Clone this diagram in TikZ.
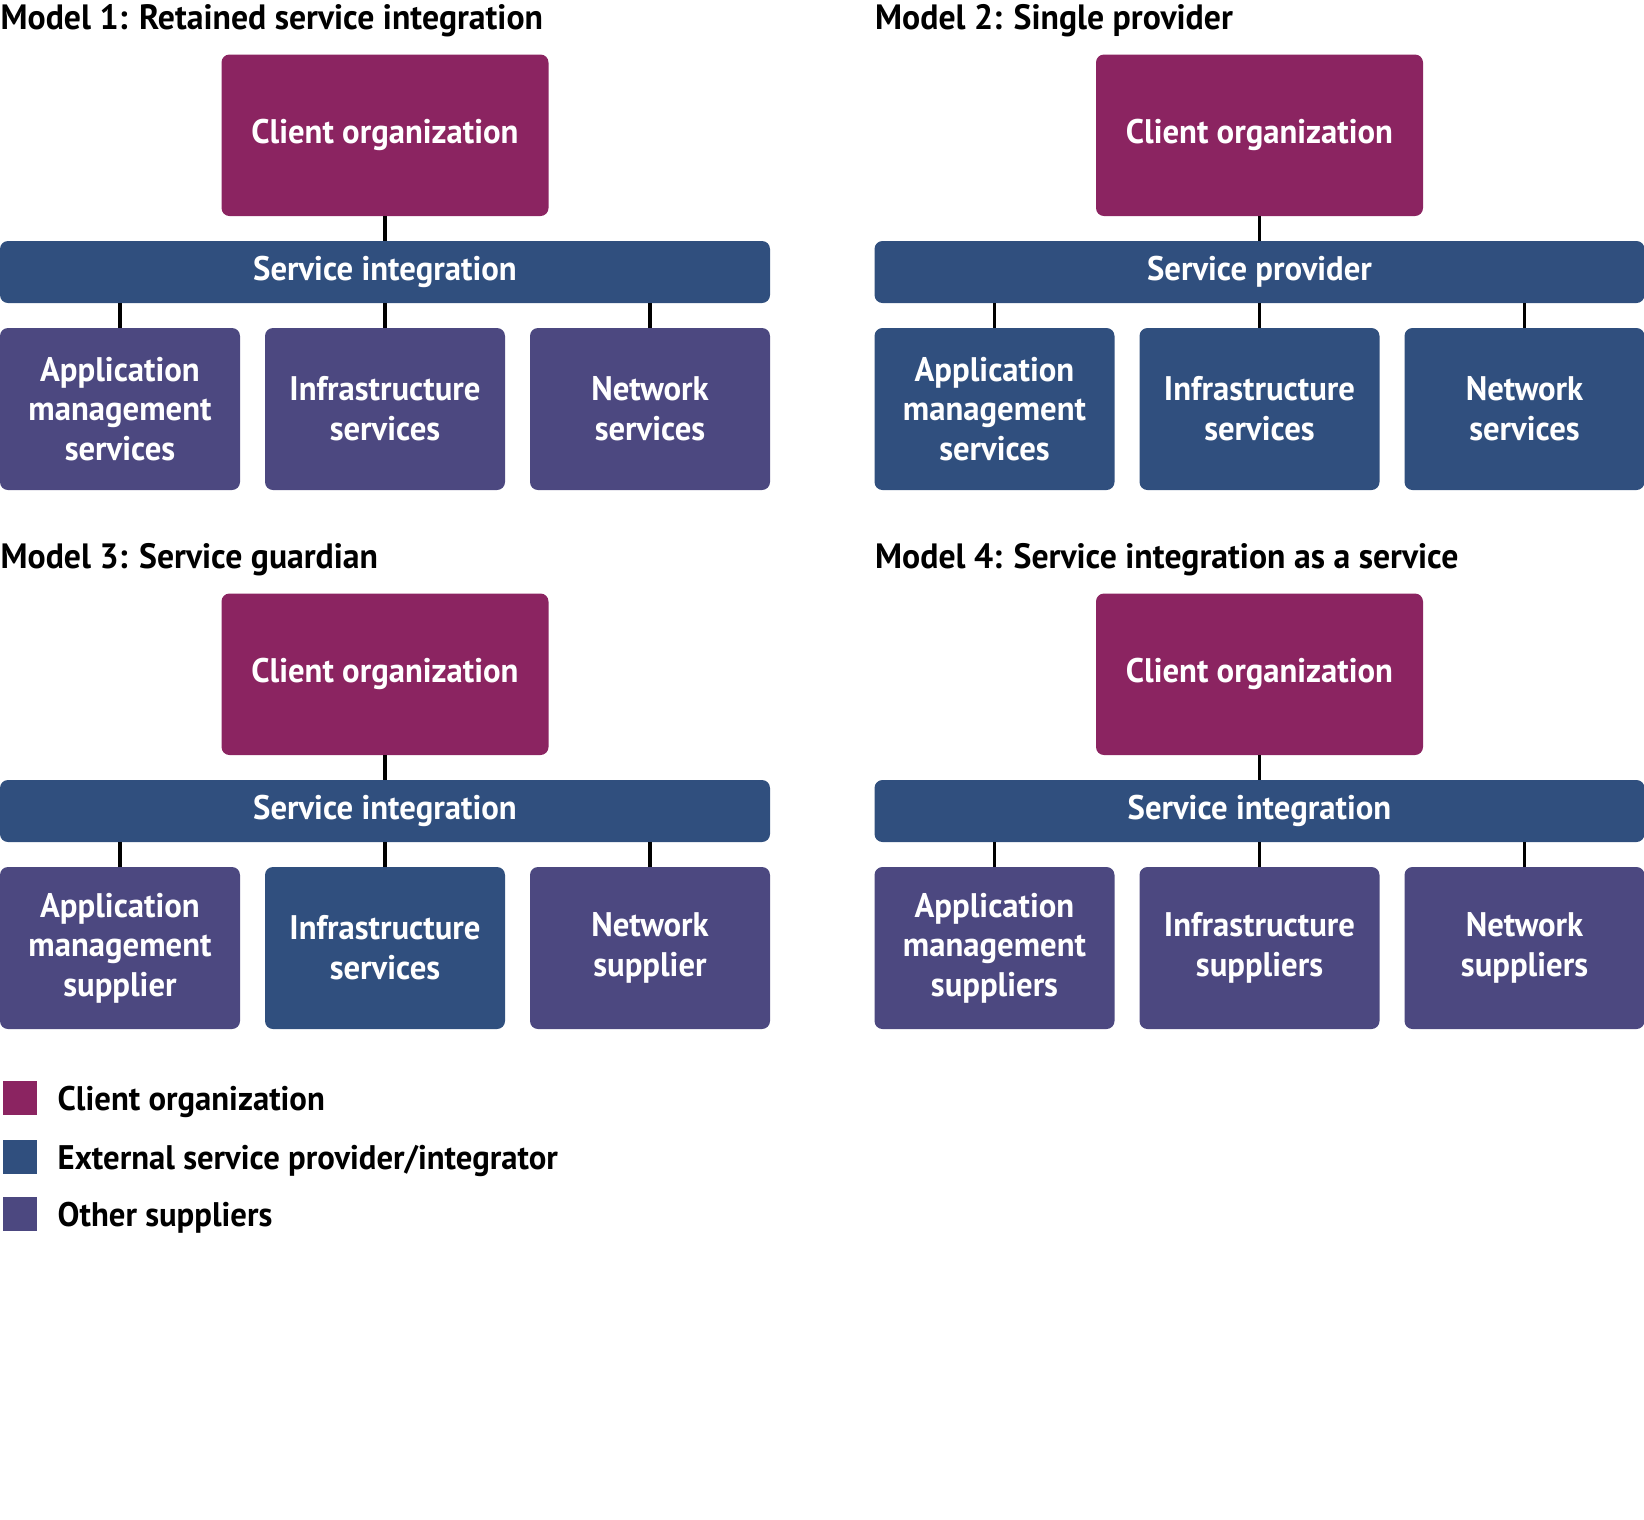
\documentclass[tikz,border=0pt]{standalone}
\usepackage{fontspec}
\setmainfont{PT Sans}[FakeStretch=0.96]
\usepackage{xcolor}
\usepackage{tikz}
\usetikzlibrary{positioning}

\definecolor{clientplum}{HTML}{8B2461}
\definecolor{providerblue}{HTML}{304F7E}
\definecolor{supplierviolet}{HTML}{4C4880}

\begin{document}
\begin{tikzpicture}[
    node distance=0.25cm,
    font=\fontsize{9.7}{11.3}\selectfont\bfseries,
    client/.style={rectangle, rounded corners=0.08cm, fill=clientplum, text=white, minimum width=3.27cm, minimum height=1.615cm, inner sep=0pt, outer sep=0pt},
    integrator/.style={rectangle, rounded corners=0.08cm, fill=providerblue, text=white, minimum width=7.7cm, minimum height=0.62cm, inner sep=0pt, outer sep=0pt},
    supplier/.style={rectangle, rounded corners=0.08cm, fill=supplierviolet, text=white, text width=2.4cm, align=center, minimum height=1.62cm, inner sep=0pt, outer sep=0pt},
    provider/.style={supplier, fill=providerblue},
    heading/.style={anchor=base west, inner sep=0pt, font=\fontsize{10}{12}\selectfont\bfseries},
    legendbox/.style={rectangle, minimum size=0.34cm, inner sep=0pt},
    legendtext/.style={anchor=west, inner sep=0pt},
    link/.style={line width=1pt}
]
\useasboundingbox (0,0) rectangle (16.44,-15.2);

% Model 1
\node[heading] (title1) at (0,-0.29) {Model 1: Retained service integration};
\node[client] (client1) at (3.85,-1.3525) {Client organization};
\node[integrator, below=of client1] (si1) {Service integration};
\node[supplier, below=of si1] (infra1) {Infrastructure\\services};
\node[supplier, left=of infra1] (app1) {Application\\management\\services};
\node[supplier, right=of infra1] (net1) {Network\\services};

% Model 2
\node[heading] (title2) at (8.745,-0.29) {Model 2: Single provider};
\node[client] (client2) at (12.595,-1.3525) {Client organization};
\node[integrator, below=of client2] (si2) {Service provider};
\node[provider, below=of si2] (infra2) {Infrastructure\\services};
\node[provider, left=of infra2] (app2) {Application\\management\\services};
\node[provider, right=of infra2] (net2) {Network\\services};

% Model 3
\node[heading] (title3) at (0,-5.68) {Model 3: Service guardian};
\node[client] (client3) at (3.85,-6.7425) {Client organization};
\node[integrator, below=of client3] (si3) {Service integration};
\node[provider, below=of si3] (infra3) {Infrastructure\\services};
\node[supplier, left=of infra3] (app3) {Application\\management\\supplier};
\node[supplier, right=of infra3] (net3) {Network\\supplier};

% Model 4
\node[heading] (title4) at (8.745,-5.68) {Model 4: Service integration as a service};
\node[client] (client4) at (12.595,-6.7425) {Client organization};
\node[integrator, below=of client4] (si4) {Service integration};
\node[supplier, below=of si4] (infra4) {Infrastructure\\suppliers};
\node[supplier, left=of infra4] (app4) {Application\\management\\suppliers};
\node[supplier, right=of infra4] (net4) {Network\\suppliers};

% Legend
\node[legendbox, fill=clientplum] (key1) at (0.195,-10.98) {};
\node[legendtext] (keytext1) at (0.57,-11.02) {Client organization};
\node[legendbox, fill=providerblue] (key2) at (0.195,-11.565) {};
\node[legendtext] (keytext2) at (0.57,-11.605) {External service provider/integrator};
\node[legendbox, fill=supplierviolet] (key3) at (0.195,-12.14) {};
\node[legendtext] (keytext3) at (0.57,-12.18) {Other suppliers};

% Links
\draw[link] (client1) -- (si1);
\draw[link] (app1.north) -- (app1.north |- si1.south);
\draw[link] (infra1) -- (si1);
\draw[link] (net1.north) -- (net1.north |- si1.south);
\draw[link] (client2) -- (si2);
\draw[link] (app2.north) -- (app2.north |- si2.south);
\draw[link] (infra2) -- (si2);
\draw[link] (net2.north) -- (net2.north |- si2.south);
\draw[link] (client3) -- (si3);
\draw[link] (app3.north) -- (app3.north |- si3.south);
\draw[link] (infra3) -- (si3);
\draw[link] (net3.north) -- (net3.north |- si3.south);
\draw[link] (client4) -- (si4);
\draw[link] (app4.north) -- (app4.north |- si4.south);
\draw[link] (infra4) -- (si4);
\draw[link] (net4.north) -- (net4.north |- si4.south);

\end{tikzpicture}
\end{document}
